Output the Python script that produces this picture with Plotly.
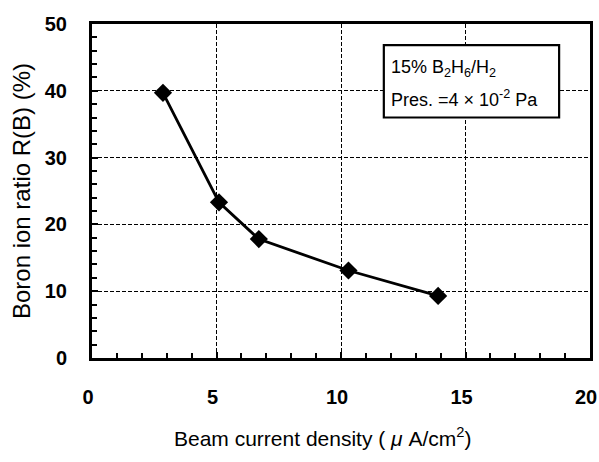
import plotly.graph_objects as go

# Measured boron ion ratio vs. beam current density
beam_current = [2.85, 5.1, 6.7, 10.3, 13.9]
boron_ratio = [39.7, 23.3, 17.8, 13.1, 9.3]

x_ticks = [0, 5, 10, 15, 20]
y_ticks = [0, 10, 20, 30, 40, 50]

FONT = "Liberation Sans, Arial, sans-serif"

fig = go.Figure()
fig.add_trace(go.Scatter(
    x=beam_current, y=boron_ratio,
    mode="lines+markers",
    line=dict(color="black", width=2.8),
    marker=dict(symbol="diamond", size=14, color="black"),
    showlegend=False,
))

axis_common = dict(
    showline=True, linecolor="black", linewidth=3, mirror=True,
    showgrid=True, gridcolor="black", gridwidth=1.3, griddash="4px,2px",
    ticks="inside", ticklen=6, tickwidth=1.8, tickcolor="black",
    zeroline=False, automargin=False, ticklabeloverflow="allow",
    tickfont=dict(family=FONT, size=20, color="black", weight="bold"),
)

fig.update_xaxes(
    range=[0, 20], tickvals=x_ticks,
    minor=dict(dtick=1, ticks="inside", ticklen=5, tickwidth=1.8,
               tickcolor="black", showgrid=False),
    ticklabelstandoff=19, ticklabelshift=-4,
    **axis_common,
)
fig.update_yaxes(
    range=[0, 50], tickvals=y_ticks,
    minor=dict(dtick=2, ticks="inside", ticklen=5, tickwidth=1.8,
               tickcolor="black", showgrid=False),
    title=dict(text="Boron ion ratio R(B) (%)",
               font=dict(family=FONT, size=24, color="black"), standoff=8),
    ticklabelstandoff=18,
    **axis_common,
)

# x-axis title, set slightly left of the plot centre
fig.add_annotation(xref="paper", yref="paper", x=0.462, y=-0.238,
                   xanchor="center", yanchor="middle", showarrow=False,
                   text="Beam current density ( <i>μ</i> A/cm<sup>2</sup>)",
                   font=dict(family=FONT, size=21, color="black"))

# Condition box in the upper right
fig.add_shape(type="rect", xref="paper", yref="paper",
              x0=0.586, x1=0.938, y0=0.72, y1=0.937,
              line=dict(color="black", width=2.2), fillcolor="white")
fig.add_annotation(xref="paper", yref="paper", x=0.596, y=0.866,
                   xanchor="left", yanchor="middle", showarrow=False,
                   text="15% B<sub>2</sub>H<sub>6</sub>/H<sub>2</sub>",
                   font=dict(family=FONT, size=18, color="black"))
fig.add_annotation(xref="paper", yref="paper", x=0.596, y=0.776,
                   xanchor="left", yanchor="middle", showarrow=False,
                   text="Pres. =4 × 10<sup>-2</sup> Pa",
                   font=dict(family=FONT, size=18, color="black"))

fig.update_layout(
    width=599, height=462,
    margin=dict(l=92, r=9, t=24, b=104),
    plot_bgcolor="white", paper_bgcolor="white",
)

fig.write_html("out.html")
